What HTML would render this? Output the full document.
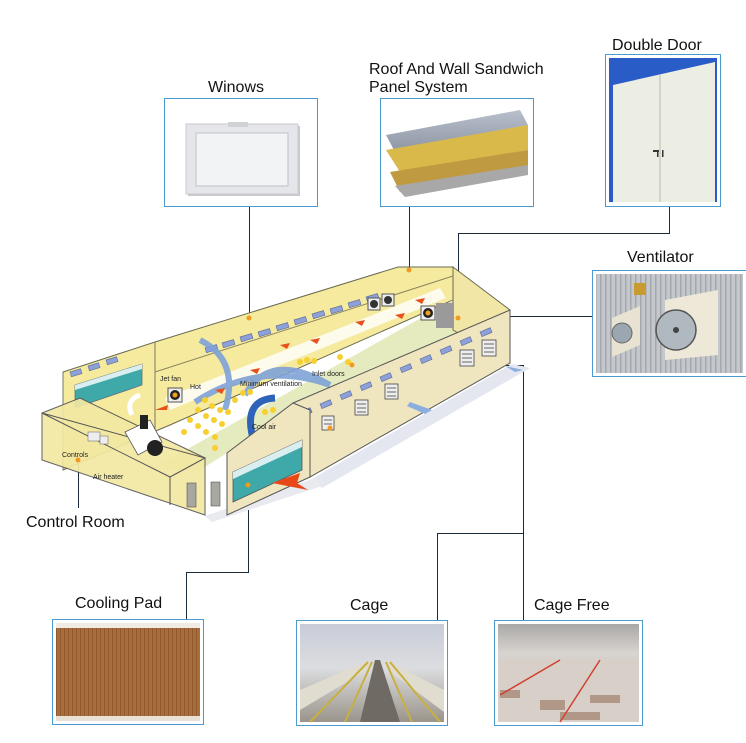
<!DOCTYPE html>
<html><head><meta charset="utf-8"><style>
html,body{margin:0;padding:0;background:#fff;}
svg{display:block;font-family:"Liberation Sans",sans-serif;}
.lbl{font-size:16px;fill:#111;}
.sm{font-size:7px;fill:#222;}
</style></head><body>
<svg width="746" height="743" viewBox="0 0 746 743" xmlns="http://www.w3.org/2000/svg">
<defs>
<linearGradient id="roofg" x1="0" y1="0" x2="0" y2="1"><stop offset="0" stop-color="#b8c0cc"/><stop offset="1" stop-color="#8f98a6"/></linearGradient>
<linearGradient id="cagebg" x1="0" y1="0" x2="0" y2="1"><stop offset="0" stop-color="#c8ccd8"/><stop offset=".45" stop-color="#dcdde0"/><stop offset="1" stop-color="#9a948a"/></linearGradient>
<linearGradient id="freebg" x1="0" y1="0" x2="0" y2="1"><stop offset="0" stop-color="#aaa8a6"/><stop offset=".3" stop-color="#d8d4d0"/><stop offset="1" stop-color="#b9a89a"/></linearGradient>
<pattern id="pad" width="4" height="10" patternUnits="userSpaceOnUse"><rect width="4" height="10" fill="#a86d3c"/><rect width="1" height="10" fill="#92592d"/></pattern>
<pattern id="corr" width="5" height="10" patternUnits="userSpaceOnUse"><rect width="5" height="10" fill="#c4c8cc"/><rect width="1.5" height="10" fill="#a4a8ae"/></pattern>
</defs>

<text class="lbl" x="208" y="92">Winows</text>
<text class="lbl" x="369" y="74">Roof And Wall Sandwich</text>
<text class="lbl" x="369" y="92">Panel System</text>
<text class="lbl" x="612" y="50">Double Door</text>
<text class="lbl" x="627" y="262">Ventilator</text>
<text class="lbl" x="26" y="527">Control Room</text>
<text class="lbl" x="75" y="608">Cooling Pad</text>
<text class="lbl" x="350" y="610">Cage</text>
<text class="lbl" x="534" y="610">Cage Free</text>

<g stroke="#1a2a3a" stroke-width="1" fill="none">
<path d="M249.5 207V318"/>
<path d="M409.5 207V270"/>
<path d="M669.5 207V233.5H458.5V318"/>
<path d="M592 316.5H430"/>
<path d="M352 365.5H523.5V620"/>
<path d="M437.5 620V533.5H523.5"/>
<path d="M78.5 460V508"/>
<path d="M248.5 485V572.5H186.5V619"/>
</g>

<polygon points="310,480 512,364 530,368 322,488" fill="#e4e7ef"/>
<polygon points="205,516 315,478 322,486 212,522" fill="#e8eaf0"/>

<polygon points="63,372 155,342 398,267 453,267 453,300 170,425 63,470" fill="#f5ea9e" stroke="#6a6a50" stroke-width="1"/>
<polygon points="150,470 453,300 510,310 293,403 227,453 200,470" fill="#e6ebbf"/>
<polygon points="453,267 510,310 510,363 453,330" fill="#f2e6a6" stroke="#6a6a50" stroke-width="1"/>
<path d="M155,342 L155,450 M63,372 L63,470" stroke="#7a7a60" stroke-width="1"/>
<path d="M155,372 L453,276" stroke="#8a8560" stroke-width="1"/>
<g fill="#8da0d8" stroke="#5a6a9a" stroke-width=".6">
<g transform="translate(205,348) rotate(-17)"><rect width="12" height="5"/></g>
<g transform="translate(222,343) rotate(-17)"><rect width="12" height="5"/></g>
<g transform="translate(240,337) rotate(-17)"><rect width="12" height="5"/></g>
<g transform="translate(258,332) rotate(-17)"><rect width="12" height="5"/></g>
<g transform="translate(276,326) rotate(-17)"><rect width="12" height="5"/></g>
<g transform="translate(294,320) rotate(-17)"><rect width="12" height="5"/></g>
<g transform="translate(312,314) rotate(-17)"><rect width="12" height="5"/></g>
<g transform="translate(330,309) rotate(-17)"><rect width="12" height="5"/></g>
<g transform="translate(348,303) rotate(-17)"><rect width="12" height="5"/></g>
<g transform="translate(366,297) rotate(-17)"><rect width="12" height="5"/></g>
<g transform="translate(70,372) rotate(-17)"><rect width="11" height="5"/></g>
<g transform="translate(88,366) rotate(-17)"><rect width="11" height="5"/></g>
<g transform="translate(106,360) rotate(-17)"><rect width="11" height="5"/></g>
</g>
<polygon points="75,385 142,364 142,385 75,408" fill="#3fa8a8" stroke="#607080" stroke-width=".8"/>
<polygon points="75,385 142,364 142,369 75,390" fill="#d8eef0"/>
<polygon points="165,398 440,288 446,298 170,410" fill="#ffffff" opacity=".8"/>
<g>
<rect x="368" y="298" width="12" height="12" fill="#eee" stroke="#555"/><circle cx="374" cy="304" r="4" fill="#333"/>
<rect x="382" y="294" width="12" height="12" fill="#eee" stroke="#555"/><circle cx="388" cy="300" r="4" fill="#333"/>
<rect x="421" y="306" width="14" height="14" fill="#eee" stroke="#555"/><circle cx="428" cy="313" r="5" fill="#222"/><circle cx="428" cy="313" r="2.5" fill="#f0a020"/>
<rect x="168" y="388" width="14" height="14" fill="#eee" stroke="#555"/><circle cx="175" cy="395" r="5" fill="#222"/><circle cx="175" cy="395" r="2.5" fill="#f0a020"/>
<rect x="436" y="303" width="18" height="25" fill="#9a9a9a"/>
</g>
<g fill="none" stroke="#7fa2d8" stroke-width="6" opacity=".9">
<path d="M200,340 Q240,360 225,410"/>
<path d="M195,402 Q260,360 330,385"/>
<path d="M245,395 Q270,350 330,385"/>
</g>
<path d="M255,445 Q240,400 275,398" fill="none" stroke="#2d63b8" stroke-width="7"/>
<g fill="#e8501e">
<polygon points="155,410 168,405 167,410"/><polygon points="215,390 225,388 222,394"/><polygon points="250,370 260,368 257,374"/>
<polygon points="280,345 290,343 287,349"/><polygon points="310,340 320,338 317,344"/><polygon points="355,322 365,320 362,326"/>
<polygon points="395,315 405,313 402,319"/><polygon points="415,300 425,298 422,304"/>
</g>
<g fill="#f5d030">
<circle cx="205" cy="400" r="3"/><circle cx="212" cy="406" r="3"/><circle cx="220" cy="410" r="3"/><circle cx="198" cy="410" r="3"/><circle cx="206" cy="416" r="3"/><circle cx="214" cy="420" r="3"/><circle cx="222" cy="424" r="3"/><circle cx="190" cy="420" r="3"/><circle cx="198" cy="426" r="3"/><circle cx="206" cy="432" r="3"/><circle cx="215" cy="437" r="3"/><circle cx="184" cy="432" r="3"/><circle cx="228" cy="412" r="3"/><circle cx="235" cy="400" r="3"/><circle cx="243" cy="393" r="3"/><circle cx="250" cy="392" r="3"/><circle cx="265" cy="412" r="3"/><circle cx="273" cy="410" r="3"/><circle cx="300" cy="362" r="3"/><circle cx="307" cy="360" r="3"/><circle cx="314" cy="361" r="3"/><circle cx="340" cy="357" r="3"/><circle cx="348" cy="362" r="3"/><circle cx="215" cy="448" r="3"/>
</g>
<polygon points="293,403 510,310 510,363 310,477 310,470 293,466" fill="#efe6c0" stroke="#555" stroke-width="1"/>
<g fill="#8da0d8" stroke="#5a6a9a" stroke-width=".6">
<g transform="translate(300,412) rotate(-23)"><rect width="11" height="5"/></g>
<g transform="translate(320,404) rotate(-23)"><rect width="11" height="5"/></g>
<g transform="translate(340,395) rotate(-23)"><rect width="11" height="5"/></g>
<g transform="translate(360,386) rotate(-23)"><rect width="11" height="5"/></g>
<g transform="translate(380,377) rotate(-23)"><rect width="11" height="5"/></g>
<g transform="translate(400,368) rotate(-23)"><rect width="11" height="5"/></g>
<g transform="translate(420,359) rotate(-23)"><rect width="11" height="5"/></g>
<g transform="translate(440,350) rotate(-23)"><rect width="11" height="5"/></g>
<g transform="translate(460,341) rotate(-23)"><rect width="11" height="5"/></g>
<g transform="translate(480,332) rotate(-23)"><rect width="11" height="5"/></g>
</g>
<g fill="#eee" stroke="#444" stroke-width=".8">
<rect x="322" y="416" width="12" height="14"/><rect x="355" y="400" width="13" height="15"/><rect x="385" y="384" width="13" height="15"/><rect x="460" y="350" width="14" height="16"/><rect x="482" y="340" width="14" height="16"/>
</g>
<g stroke="#666" stroke-width="1">
<path d="M324,420h8M324,424h8M357,404h9M357,408h9M357,412h9M387,388h9M387,392h9M387,396h9M462,354h10M462,358h10M462,362h10M484,344h10M484,348h10M484,352h10"/>
</g>
<polygon points="227,453 293,403 310,410 310,477 227,515" fill="#efe6c0" stroke="#555" stroke-width="1"/>
<polygon points="233,472 302,440 302,470 233,502" fill="#3fa8a8" stroke="#555" stroke-width=".8"/>
<polygon points="233,472 302,440 302,447 233,479" fill="#d8eef0"/>
<polygon points="272,483 300,473 297,483 308,490" fill="#e84818"/>
<rect x="211" y="482" width="9" height="24" fill="#a8a8a0" stroke="#555" stroke-width=".6"/>
<polygon points="42,413 80,398 205,458 205,515 42,460" fill="#f2e8a2" opacity=".92" stroke="#555" stroke-width="1"/>
<polygon points="42,413 170,477 205,458" fill="none" stroke="#555" stroke-width="1"/>
<path d="M170,477 L170,505" stroke="#555"/>
<rect x="187" y="483" width="9" height="24" fill="#a8a8a0" stroke="#555" stroke-width=".6"/>
<rect x="88" y="432" width="12" height="9" fill="#eee" stroke="#777" stroke-width=".6"/>
<rect x="100" y="436" width="8" height="8" fill="#eee" stroke="#777" stroke-width=".6"/>
<path d="M132,415 Q125,400 140,395" fill="none" stroke="#fff" stroke-width="5"/>
<polygon points="125,432 150,420 162,442 138,455" fill="#fff" stroke="#555" stroke-width=".8"/>
<circle cx="155" cy="448" r="8" fill="#222"/><rect x="140" y="415" width="8" height="14" fill="#222"/>
<text class="sm" x="160" y="381">Jet fan</text>
<text class="sm" x="190" y="389">Hot</text>
<text class="sm" x="240" y="386">Minimum ventilation</text>
<text class="sm" x="312" y="376">Inlet doors</text>
<text class="sm" x="252" y="429">Cool air</text>
<text class="sm" x="62" y="457">Controls</text>
<text class="sm" x="93" y="479">Air heater</text>
<polygon points="410,402 432,410 425,414 407,406" fill="#8aaee0"/>
<polygon points="505,366 523,370 515,372" fill="#8aaee0"/>
<g fill="#f09a20"><circle cx="249" cy="318" r="2.5"/><circle cx="409" cy="270" r="2.5"/><circle cx="458" cy="318" r="2.5"/><circle cx="352" cy="365" r="2.5"/><circle cx="78" cy="460" r="2.5"/><circle cx="248" cy="485" r="2.5"/><circle cx="330" cy="428" r="2.5"/></g>

<g fill="#fff" stroke="#4a9ad0" stroke-width="1">
<rect x="164.5" y="98.5" width="153" height="108"/>
<rect x="380.5" y="98.5" width="153" height="108"/>
<rect x="605.5" y="54.5" width="115" height="152"/>
<rect x="592.5" y="270.5" width="155" height="106"/>
<rect x="52.5" y="619.5" width="151" height="105"/>
<rect x="296.5" y="620.5" width="151" height="105"/>
<rect x="494.5" y="620.5" width="148" height="105"/>
</g>
<rect x="188" y="126" width="112" height="70" fill="#c8cad0"/>
<rect x="186" y="124" width="112" height="70" fill="#e4e6ea" stroke="#c8cad0"/>
<rect x="196" y="133" width="92" height="53" fill="#f2f3f5" stroke="#c0c2c8"/>
<rect x="228" y="122" width="20" height="5" fill="#d0d2d6"/>
<polygon points="386,135 520,110 528,125 394,150" fill="url(#roofg)"/>
<polygon points="386,150 528,125 528,150 400,172" fill="#d9b94a"/>
<polygon points="390,172 528,150 528,170 400,192" fill="#c09a40"/>
<polygon points="395,186 528,165 528,175 405,197" fill="#a8a8a8"/>
<rect x="609" y="58" width="108" height="144" fill="#2a5cc8"/>
<polygon points="613,85 715,62 715,202 613,202" fill="#eceee4"/>
<path d="M660,75V202" stroke="#b8bab0"/>
<rect x="653" y="150" width="6" height="2" fill="#333"/><rect x="657" y="150" width="1.5" height="7" fill="#333"/><rect x="662" y="150" width="1.5" height="7" fill="#333"/>
<rect x="596" y="274" width="147" height="99" fill="url(#corr)"/>
<polygon points="612,318 640,306 640,345 612,357" fill="#e8e2d2"/>
<circle cx="622" cy="333" r="10" fill="#9aa6b0" stroke="#666"/>
<polygon points="665,300 718,290 718,355 665,360" fill="#eee8d8"/>
<circle cx="676" cy="330" r="20" fill="#b0b8c0" stroke="#555" stroke-width="1.5"/>
<circle cx="676" cy="330" r="3" fill="#444"/>
<rect x="634" y="283" width="12" height="12" fill="#c89a30"/>
<rect x="56" y="623" width="144" height="98" fill="url(#pad)"/>
<rect x="56" y="623" width="144" height="5" fill="#f0ece4"/>
<rect x="56" y="716" width="144" height="5" fill="#e8e0d4"/>
<rect x="300" y="624" width="144" height="98" fill="url(#cagebg)"/>
<polygon points="360,722 375,660 380,660 400,722" fill="#706a64"/>
<polygon points="300,690 370,660 370,668 300,710" fill="#e0dcd0"/>
<polygon points="444,690 385,660 385,668 444,712" fill="#e0dcd0"/>
<path d="M310,722L368,662M345,722L372,662M412,722L386,662M440,722L390,662" stroke="#c8b040" stroke-width="2"/>
<rect x="498" y="624" width="141" height="98" fill="url(#freebg)"/>
<rect x="498" y="660" width="141" height="62" fill="#d8cfc8"/>
<g fill="#8a6048" opacity=".5"><rect x="500" y="690" width="20" height="8"/><rect x="540" y="700" width="25" height="10"/><rect x="590" y="695" width="30" height="8"/><rect x="560" y="712" width="40" height="8"/></g>
<path d="M500,695L560,660M560,722L600,660" stroke="#d04030" stroke-width="1.5"/>
</svg>
</body></html>
